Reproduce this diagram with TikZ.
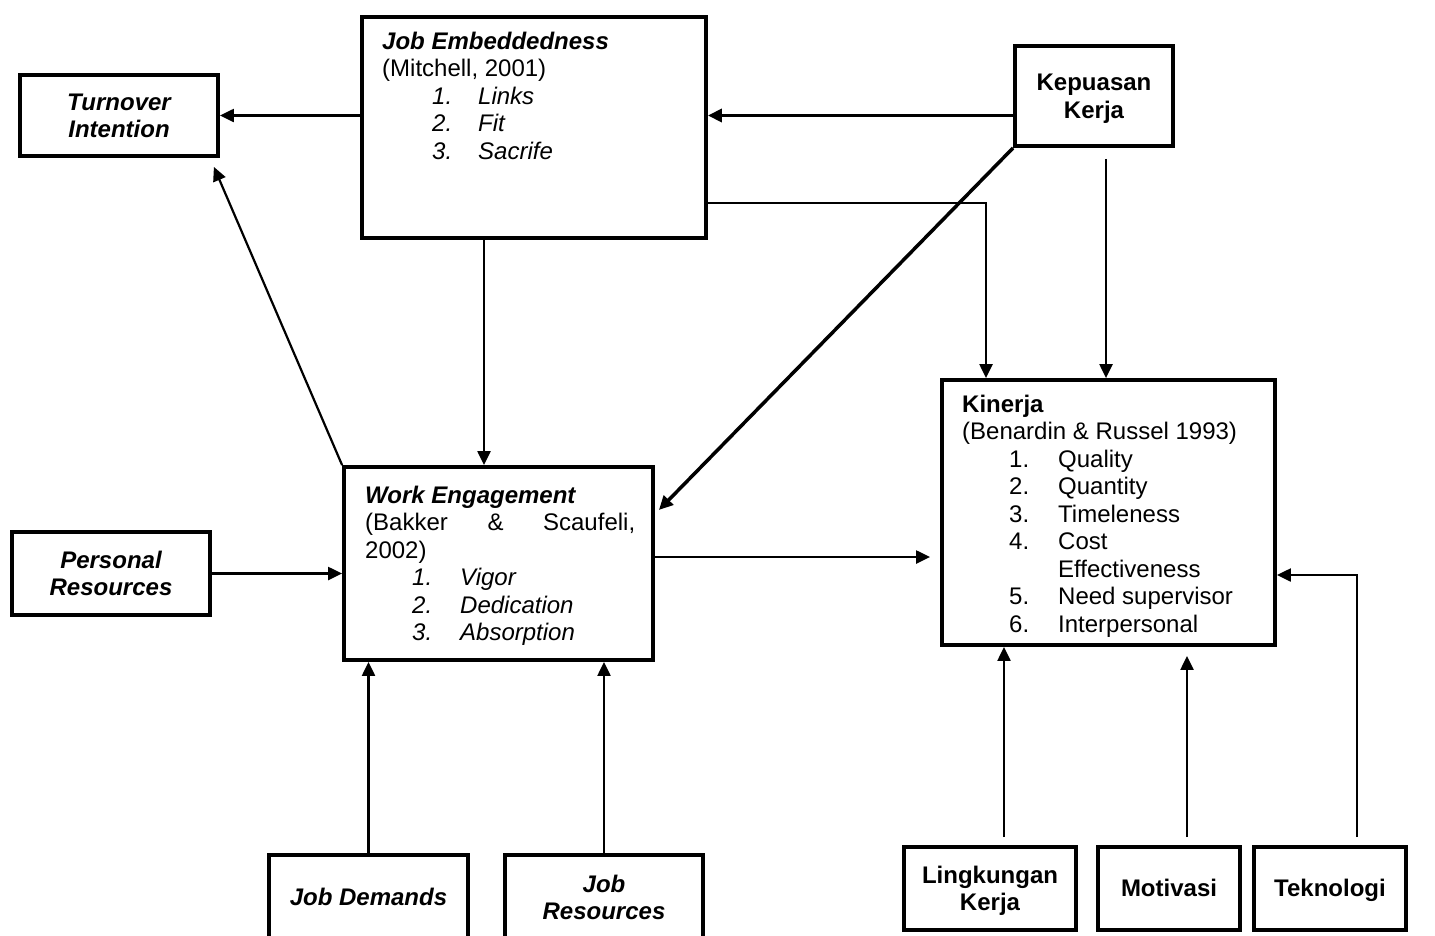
\documentclass[tikz,border=0pt]{standalone}
\usepackage{fontspec}
\setmainfont{Liberation Sans}
\usetikzlibrary{arrows.meta,calc}
\newcommand\diagfont{\fontsize{24}{27.5}\selectfont}
% line strut with the full ascent and descent of the font
\newcommand\ls{\rule[-5.1pt]{0pt}{26.8pt}}

\begin{document}
\begin{tikzpicture}[x=1pt,y=-1pt,
  box/.style={draw, line width=3.8pt, rectangle, inner sep=0pt, align=center,
              font=\diagfont\bfseries},
  boxit/.style={box, font=\diagfont\bfseries\itshape},
  txt/.style={inner sep=0pt, anchor=base west, font=\diagfont},
  conn/.style={line width=2.2pt, -{Triangle[length=14pt,width=13pt]}},
  thickconn/.style={conn, line width=3.5pt},
]
\path[use as bounding box] (0,0) rectangle (1435,935);

% ---- boxes ----
\node[boxit, minimum width=198pt, minimum height=81pt] (turn) at (119,115.5) {\ls Turnover\\\ls Intention};
\node[box,   minimum width=344pt, minimum height=221pt] (je) at (534,127.5) {};
\node[box,   minimum width=158pt, minimum height=100pt] (kep) at (1094,96) {\ls Kepuasan\\\ls Kerja};
\node[box,   minimum width=309pt, minimum height=193pt] (we) at (498.5,563.5) {};
\node[box,   minimum width=333pt, minimum height=265pt] (kin) at (1108.5,512.5) {};
\node[boxit, minimum width=198pt, minimum height=83pt] (pers) at (111,573.5) {\ls Personal\\\ls Resources};
\node[boxit, minimum width=199pt, minimum height=85pt] (jd) at (368.5,897.5) {\ls Job Demands};
\node[boxit, minimum width=198pt, minimum height=85pt] (jr) at (604,897.5) {\ls Job\\\ls Resources};
\node[box,   minimum width=172pt, minimum height=83pt] (ling) at (990,888.5) {\ls Lingkungan\\\ls Kerja};
\node[box,   minimum width=142pt, minimum height=83pt] (mot) at (1169,888.5) {\ls Motivasi};
\node[box,   minimum width=152pt, minimum height=83pt] (tek) at (1330,888.5) {\ls Teknologi};

% ---- box contents ----
\node[txt] (jetext) at (382,49) {\begin{tabular}[t]{@{}l@{}}
  \textbf{\textit{Job Embeddedness}}\\
  (Mitchell, 2001)\\
  \hspace*{50pt}\makebox[46pt][l]{\itshape 1.}\textit{Links}\\
  \hspace*{50pt}\makebox[46pt][l]{\itshape 2.}\textit{Fit}\\
  \hspace*{50pt}\makebox[46pt][l]{\itshape 3.}\textit{Sacrife}
\end{tabular}};

\node[txt] (wetext) at (365,503) {\begin{tabular}[t]{@{}l@{}}
  \textbf{\textit{Work Engagement}}\\
  \makebox[270pt][s]{(Bakker\hfill\&\hfill Scaufeli,}\\
  2002)\\
  \hspace*{47pt}\makebox[48pt][l]{\itshape 1.}\textit{Vigor}\\
  \hspace*{47pt}\makebox[48pt][l]{\itshape 2.}\textit{Dedication}\\
  \hspace*{47pt}\makebox[48pt][l]{\itshape 3.}\textit{Absorption}
\end{tabular}};

\node[txt] (kintext) at (962,412) {\begin{tabular}[t]{@{}l@{}}
  \textbf{Kinerja}\\
  (Benardin \& Russel 1993)\\
  \hspace*{47pt}\makebox[49pt][l]{1.}Quality\\
  \hspace*{47pt}\makebox[49pt][l]{2.}Quantity\\
  \hspace*{47pt}\makebox[49pt][l]{3.}Timeleness\\
  \hspace*{47pt}\makebox[49pt][l]{4.}Cost\\
  \hspace*{96pt}Effectiveness\\
  \hspace*{47pt}\makebox[49pt][l]{5.}Need supervisor\\
  \hspace*{47pt}\makebox[49pt][l]{6.}Interpersonal
\end{tabular}};

% ---- helper points ----
\coordinate (jeout)  at ($(je.south)+(-50,0)$);
\coordinate (jeR)    at ($(je.east)+(0,75.5)$);
\coordinate (kepdown) at ($(kep.south)+(12,11)$);
\coordinate (weout)  at ($(we.east)+(-3,-6.5)$);
\coordinate (wein)   at (weout -| kin.west);
\coordinate (lingup) at ($(ling.north)+(14,-8)$);
\coordinate (motup)  at ($(mot.north)+(18,-8)$);
\coordinate (motk)   at (motup |- kin.south);
\coordinate (tekup)  at ($(tek.north)+(27,-8)$);

% ---- connectors ----
\draw[conn] (je.west |- turn.east) -- (turn.east);
\draw[thickconn] (kep.west |- turn.east) -- (je.east |- turn.east);
\draw[conn] (we.north west) -- ($(turn.south east)+(-6,9)$);
\draw[conn] (jeout) -- (jeout |- we.north);
\draw[conn] (jeR) -| ($(kin.north)+(-122.5,0)$);
\draw[conn] (kepdown) -- (kepdown |- kin.north);
\draw[thickconn] (kep.south west) -- ($(we.east)+(4,-53.5)$);
\draw[conn] (weout) -- ($(wein)+(-10,0)$);
\draw[conn] (pers.east) -- (pers.east -| we.west);
\draw[conn] (jd.north) -- (jd.north |- we.south);
\draw[conn] (jr.north) -- (jr.north |- we.south);
\draw[conn] (lingup) -- (lingup |- kin.south);
\draw[conn] (motup) -- ($(motk)+(0,9)$);
\draw[conn] (tekup) |- ($(kin.east)+(0,62.5)$);
\end{tikzpicture}
\end{document}
